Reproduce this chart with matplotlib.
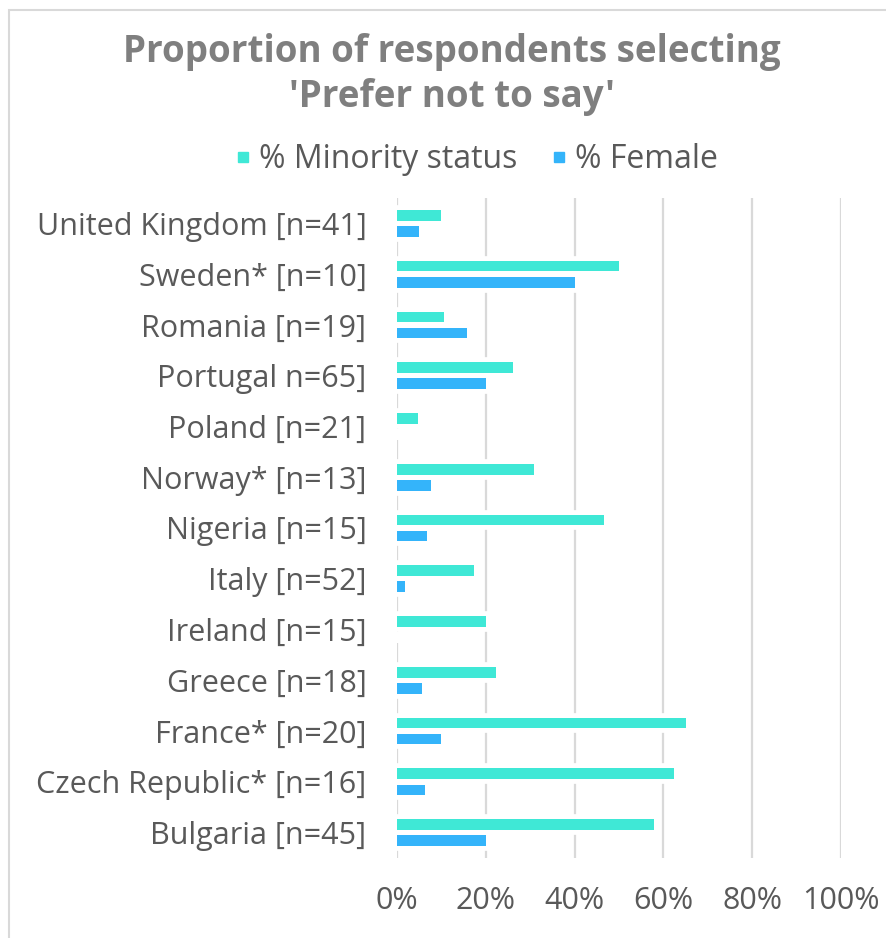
import matplotlib
matplotlib.use("Agg")
import matplotlib.pyplot as plt
from matplotlib.patches import Rectangle
from matplotlib.lines import Line2D
import numpy as np

categories = ["United Kingdom [n=41]", "Sweden* [n=10]", "Romania [n=19]", "Portugal n=65]",
              "Poland [n=21]", "Norway* [n=13]", "Nigeria [n=15]", "Italy [n=52]",
              "Ireland [n=15]", "Greece [n=18]", "France* [n=20]", "Czech Republic* [n=16]",
              "Bulgaria [n=45]"]
minority = [9.8, 50.0, 10.5, 26.2, 4.8, 30.8, 46.7, 17.3, 20.0, 22.2, 65.0, 62.5, 57.8]
female = [4.9, 40.0, 15.8, 20.0, 0.0, 7.7, 6.7, 1.9, 0.0, 5.6, 10.0, 6.25, 20.0]
xticks = [0, 20, 40, 60, 80, 100]
xticklabels = ["0%", "20%", "40%", "60%", "80%", "100%"]

FONT = "Open Sans"
TXT = "#595959"
C_MIN = "#3FE8D6"
C_FEM = "#34B4FA"

W, H = 887, 938
fig = plt.figure(figsize=(W / 100, H / 100), dpi=100)
fig.patch.set_facecolor("white")

# chart border (top/left visible)
fig.add_artist(Rectangle((9 / W, 0 - 0.01), (W + 20) / W, 1 - 10 / H + 0.01,
                         transform=fig.transFigure, fill=False, edgecolor="#d9d9d9", lw=1.5))

ax = fig.add_axes([397 / W, 1 - 858 / H, (841 - 397) / W, (858 - 198) / H])
y = np.arange(len(categories))
bh = 0.21
off = 0.158

ax.set_xlim(0, 100)
ax.set_ylim(len(categories) - 0.5, -0.5)
for xv in xticks:
    ax.axvline(xv, color="#d9d9d9", lw=1.6, zorder=0)

# white halo behind bars (interrupts gridlines)
ax.barh(y - off, minority, height=bh, color="white", edgecolor="white", lw=7, zorder=1)
ax.barh(y + off, female, height=bh, color="white", edgecolor="white", lw=7, zorder=1)
ax.barh(y - off, minority, height=bh, color=C_MIN, zorder=2, label="% Minority status")
ax.barh(y + off, female, height=bh, color=C_FEM, zorder=2, label="% Female")

ax.set_yticks(y)
ax.set_yticklabels(categories, fontfamily=FONT, fontsize=22, color=TXT)
ax.set_xticks(xticks)
ax.set_xticklabels(xticklabels, fontfamily=FONT, fontsize=22, color=TXT)
ax.tick_params(axis="both", length=0)
ax.tick_params(axis="y", pad=22)
ax.tick_params(axis="x", pad=20)
for s in ax.spines.values():
    s.set_visible(False)

fig.text(452 / W, 1 - 52 / H, "Proportion of respondents selecting", ha="center", va="center",
         fontfamily=FONT, fontweight="bold", fontsize=26.5, color="#7f7f7f")
fig.text(452 / W, 1 - 97 / H, "'Prefer not to say'", ha="center", va="center",
         fontfamily=FONT, fontweight="bold", fontsize=26.5, color="#7f7f7f")

handles = [Line2D([], [], marker="s", ls="none", markersize=7, color=C_MIN),
           Line2D([], [], marker="s", ls="none", markersize=7, color=C_FEM)]
leg = fig.legend(handles, ["% Minority status", "% Female"], loc="center",
                 bbox_to_anchor=(474 / W, 1 - 160 / H), ncol=2, frameon=False,
                 prop={"family": FONT, "size": 23}, handletextpad=0.1, columnspacing=0.9,
                 handlelength=0.8)
for t in leg.get_texts():
    t.set_color(TXT)

fig.savefig("out.png", dpi=100)
